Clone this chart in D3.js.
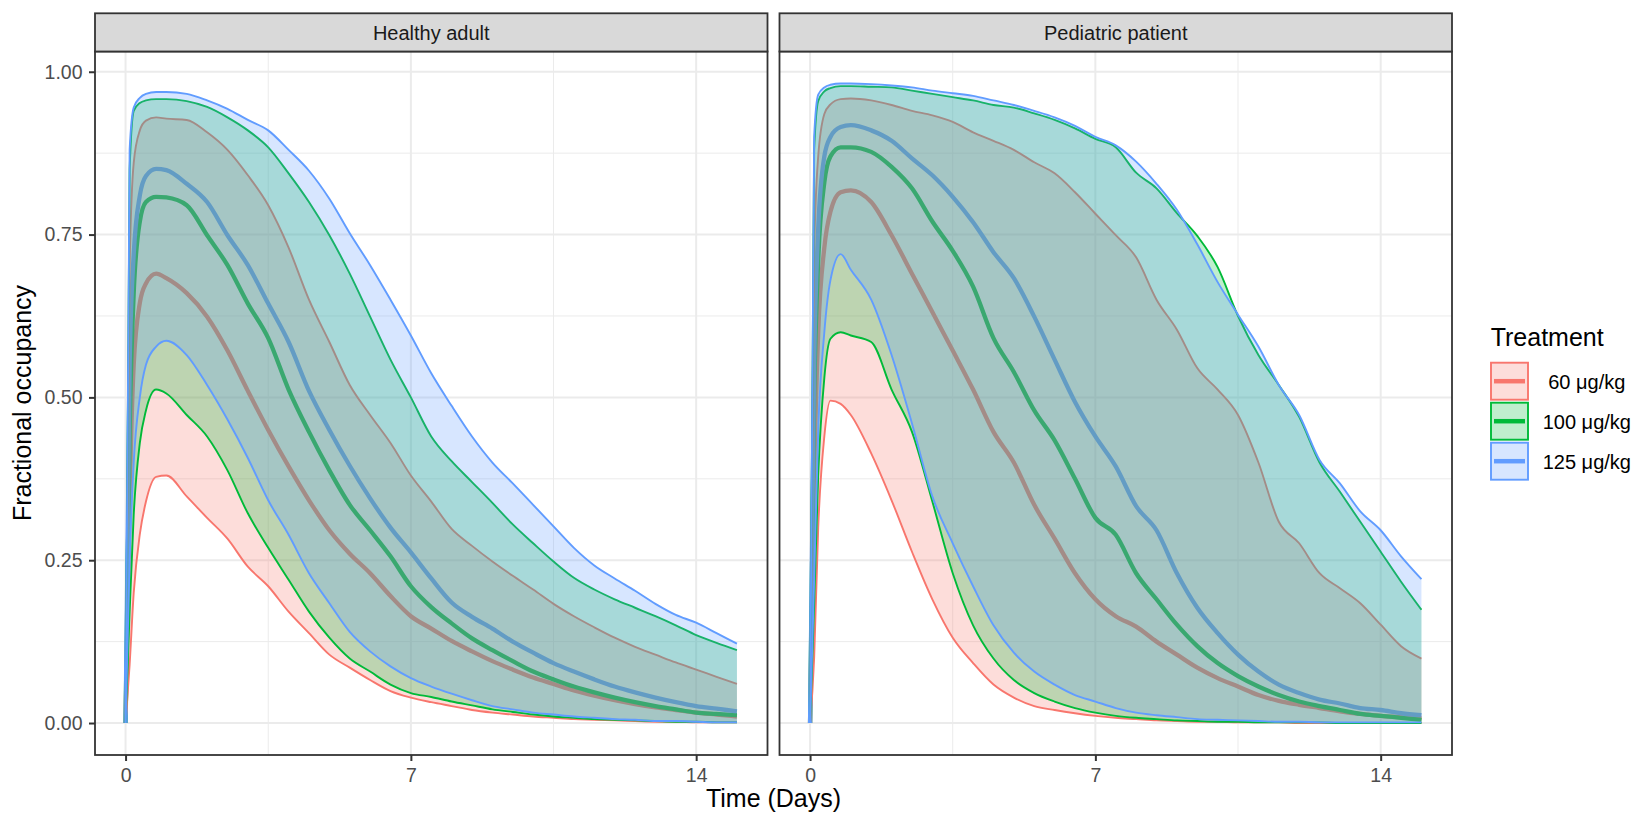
<!DOCTYPE html>
<html>
<head>
<meta charset="utf-8">
<script src="https://cdn.jsdelivr.net/npm/d3@7"></script>
<style>
  html, body { margin: 0; padding: 0; background: #ffffff; }
  svg { display: block; font-family: "Liberation Sans", Arial, sans-serif; }
</style>
</head>
<body>
<svg id="chart" width="1637" height="815"></svg>
<script>
// ---------------- data ----------------
const times = [0,0.1,0.2,0.35,0.5,0.75,1,1.5,2,2.5,3,3.5,4,4.5,5,5.5,6,6.5,7,7.5,8,8.5,9,9.5,10,10.5,11,11.5,12,12.5,13,13.5,14,14.5,15];

const panelNames = ["Healthy adult", "Pediatric patient"];
const treatments = [" 60 μg/kg", "100 μg/kg", "125 μg/kg"];
const colors = ["#F8766D", "#00BA38", "#619CFF"];

const xTicks = [0, 7, 14];
const xMinor = [3.5, 10.5];
const yTicks = [0, 0.25, 0.5, 0.75, 1];
const yMinor = [0.125, 0.375, 0.625, 0.875];

// Healthy adult
const adult60Lo  = [0,.09,.20,.29,.34,.378,.38, .348,.315,.283,.24,.21,.171,.138,.105,.085,.066,.049,.039,.032,.026,.02,.016,.013,.01,.008,.006,.005,.004,.003,.002,.002,.001,.001,.001];
const adult60Med = [0,.35,.55,.645,.675,.69,.683, .66,.624,.572,.51,.45,.394,.342,.296,.26,.23,.195,.164,.145,.126,.11,.095,.082,.07,.06,.05,.042,.035,.029,.024,.02,.016,.013,.01];
const adult60Hi  = [0,.70,.86,.91,.925,.93,.928, .926,.907,.88,.841,.795,.73,.65,.585,.519,.473,.43,.38,.34,.298,.272,.248,.226,.205,.183,.164,.147,.131,.117,.105,.093,.082,.071,.06];

const adult100Lo  = [0,.17,.32,.43,.48,.512,.506, .473,.44,.388,.322,.269,.22,.171,.131,.099,.079,.059,.046,.04,.033,.027,.021,.017,.013,.01,.008,.006,.005,.004,.003,.002,.002,.001,.001];
const adult100Med = [0,.45,.66,.77,.80,.808,.807, .795,.749,.703,.644,.591,.512,.447,.388,.335,.296,.256,.21,.178,.153,.13,.112,.095,.079,.067,.056,.047,.039,.032,.026,.021,.016,.014,.012];
const adult100Hi  = [0,.85,.94,.952,.956,.958,.958, .955,.946,.93,.91,.884,.844,.80,.749,.69,.624,.558,.50,.44,.402,.37,.338,.305,.276,.248,.223,.205,.19,.177,.164,.15,.135,.123,.112];

const adult125Lo  = [0,.25,.40,.50,.55,.578,.587, .565,.519,.466,.407,.342,.289,.23,.184,.14,.11,.087,.069,.056,.045,.035,.026,.021,.016,.013,.01,.008,.006,.005,.003,.003,.002,.001,.001];
const adult125Med = [0,.55,.72,.81,.84,.851,.849, .828,.80,.749,.703,.644,.585,.51,.45,.395,.345,.30,.262,.222,.185,.163,.145,.125,.108,.092,.079,.067,.056,.047,.039,.032,.026,.022,.018];
const adult125Hi  = [0,.88,.945,.96,.966,.969,.969, .966,.956,.943,.926,.91,.88,.848,.805,.752,.703,.65,.595,.537,.487,.44,.40,.368,.335,.302,.269,.242,.222,.203,.183,.166,.154,.138,.122];

// Pediatric patient
const ped60Lo  = [0,.10,.30,.44,.495,.49,.473, .414,.342,.263,.19,.131,.092,.059,.039,.026,.02,.015,.011,.008,.006,.004,.003,.002,.002,.001,.001,.001,0,0,0,0,0,0,0];
const ped60Med = [0,.38,.60,.73,.785,.815,.818, .80,.749,.69,.631,.572,.512,.447,.40,.335,.283,.23,.19,.164,.148,.125,.105,.085,.069,.056,.043,.034,.028,.023,.018,.014,.011,.009,.007];
const ped60Hi  = [0,.72,.87,.935,.95,.958,.959, .956,.949,.94,.933,.923,.907,.894,.88,.861,.844,.815,.782,.749,.715,.65,.604,.545,.512,.473,.40,.309,.276,.23,.207,.184,.151,.118,.099];

const ped100Lo  = [0,.18,.38,.53,.59,.60,.595, .585,.512,.447,.34,.23,.15,.099,.066,.046,.033,.023,.016,.011,.008,.006,.004,.003,.002,.002,.001,.001,.001,.001,0,0,0,0,0];
const ped100Med = [0,.50,.71,.83,.87,.884,.884, .877,.854,.821,.77,.725,.67,.591,.539,.48,.434,.375,.315,.289,.23,.19,.151,.118,.092,.072,.056,.043,.033,.026,.02,.014,.011,.008,.005];
const ped100Hi  = [0,.88,.955,.97,.975,.978,.978, .977,.976,.971,.966,.961,.956,.949,.945,.936,.926,.913,.897,.884,.845,.821,.783,.748,.70,.625,.565,.519,.47,.40,.355,.309,.263,.217,.174];

const ped125Lo  = [0,.22,.45,.60,.68,.72,.696, .65,.565,.46,.348,.276,.21,.15,.108,.079,.059,.043,.033,.023,.016,.012,.009,.006,.005,.004,.003,.002,.002,.001,.001,.001,.001,.001,.001];
const ped125Med = [0,.55,.76,.87,.90,.915,.918, .91,.894,.867,.841,.808,.769,.723,.683,.624,.558,.493,.44,.394,.333,.296,.23,.177,.138,.105,.079,.059,.046,.036,.03,.023,.02,.015,.012];
const ped125Hi  = [0,.90,.965,.976,.98,.982,.982, .981,.979,.976,.971,.967,.963,.956,.949,.94,.93,.917,.90,.887,.862,.828,.788,.735,.677,.627,.578,.519,.473,.404,.368,.325,.296,.256,.221];

const seriesByPanel = [
  [ {lo: adult60Lo, med: adult60Med, hi: adult60Hi},
    {lo: adult100Lo, med: adult100Med, hi: adult100Hi},
    {lo: adult125Lo, med: adult125Med, hi: adult125Hi} ],
  [ {lo: ped60Lo, med: ped60Med, hi: ped60Hi},
    {lo: ped100Lo, med: ped100Med, hi: ped100Hi},
    {lo: ped125Lo, med: ped125Med, hi: ped125Hi} ]
];

// ---------------- layout ----------------
const svg = d3.select("#chart");
const panelX = [[95, 767.5], [779.5, 1452]];
const panelTop = 51.5, panelBottom = 755, stripTop = 13.3;
const grid = "#EBEBEB", dark = "#333333";
const tickFont = 19.5;

const y = d3.scaleLinear().domain([-0.0491, 1.0311]).range([panelBottom, panelTop]);

panelX.forEach((px, p) => {
  const x = d3.scaleLinear().domain([-0.75, 15.75]).range(px);
  const g = svg.append("g");

  // grid
  g.selectAll(".ymin").data(yMinor).join("line")
    .attr("x1", px[0]).attr("x2", px[1]).attr("y1", d => y(d)).attr("y2", d => y(d))
    .attr("stroke", grid).attr("stroke-width", 1);
  g.selectAll(".xmin").data(xMinor).join("line")
    .attr("y1", panelTop).attr("y2", panelBottom).attr("x1", d => x(d)).attr("x2", d => x(d))
    .attr("stroke", grid).attr("stroke-width", 1);
  g.selectAll(".ymaj").data(yTicks).join("line")
    .attr("x1", px[0]).attr("x2", px[1]).attr("y1", d => y(d)).attr("y2", d => y(d))
    .attr("stroke", grid).attr("stroke-width", 2);
  g.selectAll(".xmaj").data(xTicks).join("line")
    .attr("y1", panelTop).attr("y2", panelBottom).attr("x1", d => x(d)).attr("x2", d => x(d))
    .attr("stroke", grid).attr("stroke-width", 2);

  const series = seriesByPanel[p];
  const curve = d3.curveMonotoneX;
  const lineGen = arr => d3.line().curve(curve).x((d, i) => x(times[i])).y(d => y(d))(arr);
  const areaGen = (lo, hi) => d3.area().curve(curve)
      .x((d, i) => x(times[i])).y0((d, i) => y(lo[i])).y1((d, i) => y(hi[i]))(times);

  // median lines first
  series.forEach((s, k) => {
    g.append("path").attr("d", lineGen(s.med)).attr("fill", "none")
      .attr("stroke", colors[k]).attr("stroke-width", 4.3).attr("stroke-linejoin", "round");
  });
  // ribbons with outlines
  series.forEach((s, k) => {
    g.append("path").attr("d", areaGen(s.lo, s.hi))
      .attr("fill", colors[k]).attr("fill-opacity", 0.25).attr("stroke", "none");
    [s.lo, s.hi].forEach(arr => {
      g.append("path").attr("d", lineGen(arr)).attr("fill", "none")
        .attr("stroke", colors[k]).attr("stroke-width", 1.9).attr("stroke-linejoin", "round");
    });
  });

  // panel border
  g.append("rect").attr("x", px[0]).attr("y", panelTop)
    .attr("width", px[1] - px[0]).attr("height", panelBottom - panelTop)
    .attr("fill", "none").attr("stroke", dark).attr("stroke-width", 1.8);

  // strip
  g.append("rect").attr("x", px[0]).attr("y", stripTop)
    .attr("width", px[1] - px[0]).attr("height", panelTop - stripTop)
    .attr("fill", "#D9D9D9").attr("stroke", dark).attr("stroke-width", 1.8);
  g.append("text").attr("x", (px[0] + px[1]) / 2).attr("y", 40)
    .attr("text-anchor", "middle").attr("font-size", 20).attr("fill", "#1A1A1A")
    .text(panelNames[p]);

  // x axis
  const xa = svg.append("g").attr("transform", `translate(0,${panelBottom})`)
    .call(d3.axisBottom(x).tickValues(xTicks).tickSize(6).tickPadding(7).tickFormat(d3.format("d")));
  xa.select(".domain").remove();
  xa.selectAll(".tick line").attr("stroke", dark).attr("stroke-width", 2);
  xa.selectAll(".tick text").attr("fill", "#4D4D4D").attr("font-size", tickFont)
    .attr("font-family", "Liberation Sans, Arial, sans-serif");

  if (p === 0) {
    const ya = svg.append("g").attr("transform", `translate(${px[0]},0)`)
      .call(d3.axisLeft(y).tickValues(yTicks).tickSize(6).tickPadding(6.5).tickFormat(d3.format(".2f")));
    ya.select(".domain").remove();
    ya.selectAll(".tick line").attr("stroke", dark).attr("stroke-width", 2);
    ya.selectAll(".tick text").attr("fill", "#4D4D4D").attr("font-size", tickFont)
      .attr("font-family", "Liberation Sans, Arial, sans-serif");
  }
});

// axis titles
svg.append("text").attr("x", 773.5).attr("y", 807).attr("text-anchor", "middle")
  .attr("font-size", 25).attr("fill", "#000").text("Time (Days)");
svg.append("text").attr("transform", "translate(31,403) rotate(-90)").attr("text-anchor", "middle")
  .attr("font-size", 25).attr("fill", "#000").text("Fractional occupancy");

// legend
const lg = svg.append("g");
lg.append("text").attr("x", 1490.7).attr("y", 346).attr("font-size", 25).attr("fill", "#000").text("Treatment");
treatments.forEach((t, k) => {
  const ky = 362.7 + k * 40;
  lg.append("rect").attr("x", 1491).attr("y", ky).attr("width", 37).attr("height", 37)
    .attr("fill", "#ffffff");
  lg.append("rect").attr("x", 1491).attr("y", ky).attr("width", 37).attr("height", 37)
    .attr("fill", colors[k]).attr("fill-opacity", 0.25)
    .attr("stroke", colors[k]).attr("stroke-width", 1.9);
  lg.append("line").attr("x1", 1494).attr("x2", 1525).attr("y1", ky + 18.5).attr("y2", ky + 18.5)
    .attr("stroke", colors[k]).attr("stroke-width", 4.5);
  lg.append("text").attr("x", 1542.7).attr("y", ky + 18.5 + 8)
    .attr("font-size", 20).attr("fill", "#000")
    .attr("xml:space", "preserve").style("white-space", "pre")
    .text(t);
});
</script>
</body>
</html>
